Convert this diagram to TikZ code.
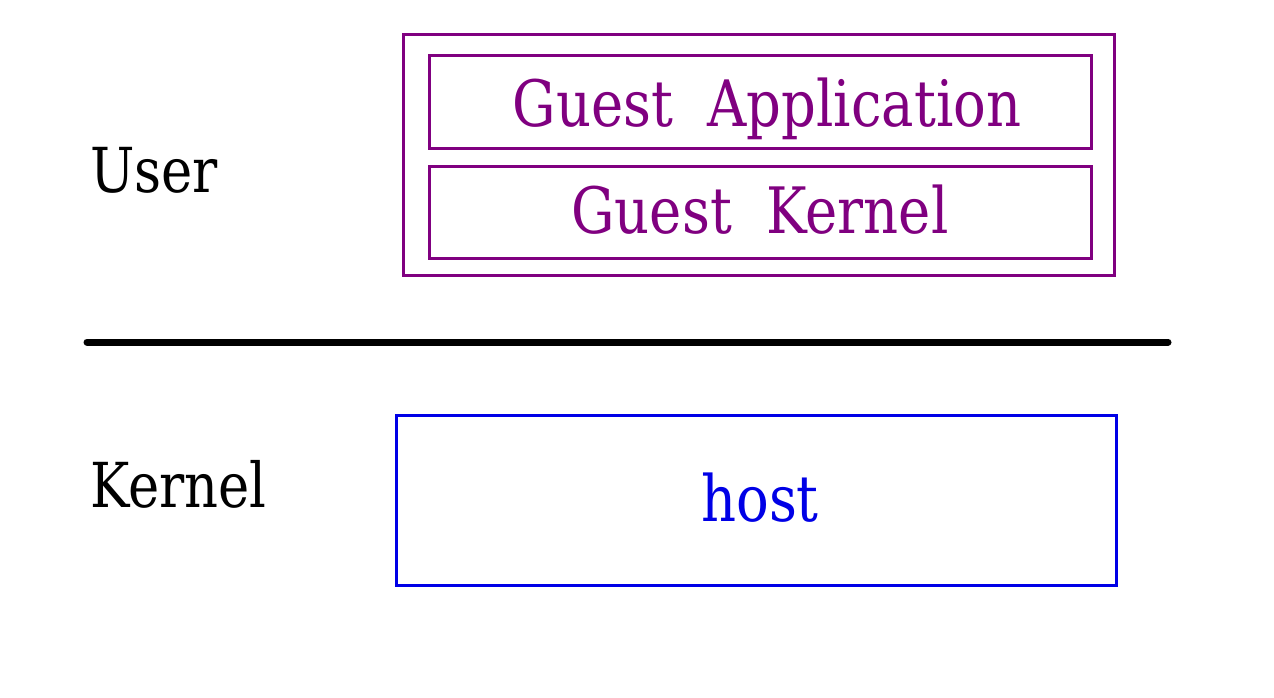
\documentclass[tikz,border=0pt]{standalone}
\usepackage{fontspec}
\setmainfont{DejaVu Serif}[FakeStretch=0.85]
\definecolor{gpurple}{RGB}{128,0,128}
\definecolor{hblue}{RGB}{0,0,230}
\begin{document}
\begin{tikzpicture}[x=1pt,y=-1pt,
  lbl/.style={font=\fontsize{64}{70}\selectfont, inner sep=0pt, anchor=base west},
  gbox/.style={draw=gpurple, line width=2.5pt},
  boxtext/.style={font=\fontsize{64}{70}\selectfont, inner sep=0pt, anchor=base},
]
\useasboundingbox (0,0) rectangle (1274,697);
\node[gbox, minimum width=711pt, minimum height=241pt, anchor=north west] (outer) at (402,33) {};
\node[gbox, minimum width=662pt, minimum height=93pt, anchor=north west] (app) at (428,54) {};
\node[gbox, minimum width=662pt, minimum height=92pt, anchor=north west] (gk) at (428,165) {};
\node[draw=hblue, line width=3pt, minimum width=720pt, minimum height=170pt, anchor=north west] (host) at (395,414) {};
\node[boxtext, text=gpurple] (apptext) at (767,126) {Guest\ \ Application};
\node[boxtext, text=gpurple] (gktext) at (760,233) {Guest\ \ Kernel};
\node[boxtext, text=hblue] (hosttext) at (760,521) {host};
\node[lbl, font=\fontsize{62}{70}\selectfont] (user) at (90,192) {User};
\node[lbl, font=\fontsize{62}{70}\selectfont] (kernel) at (90,507) {Kernel};
\coordinate (l1) at (87,342);
\coordinate (l2) at (1168,342);
\draw[line width=7pt, line cap=round] (l1) -- (l2);
\end{tikzpicture}
\end{document}
